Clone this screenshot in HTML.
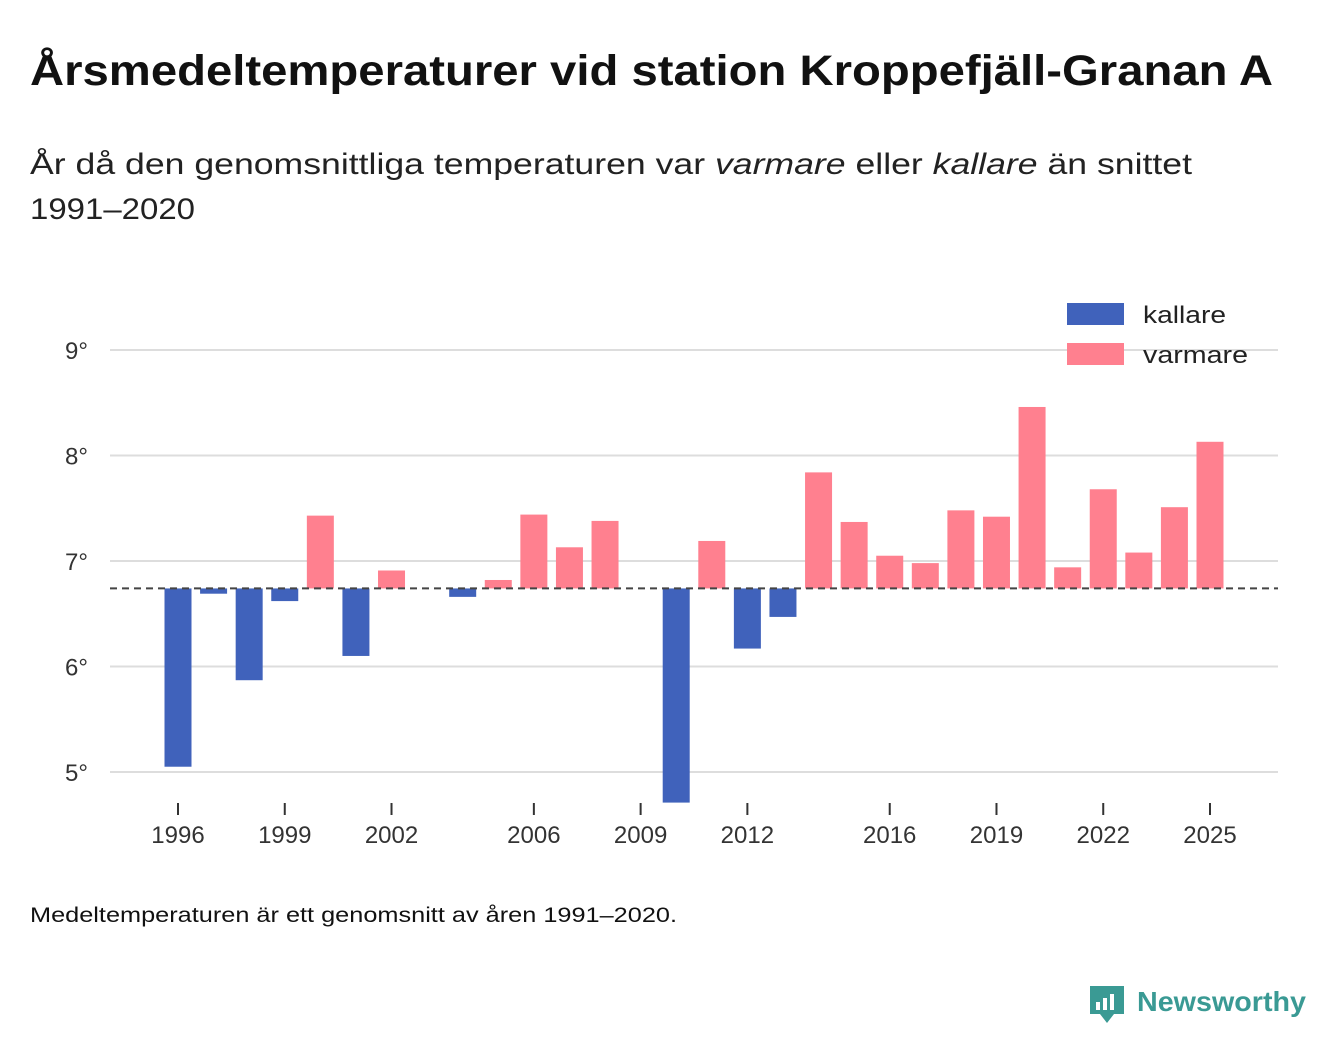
<!DOCTYPE html>
<html><head><meta charset="utf-8"><style>
html,body{margin:0;padding:0;background:#fff;}
svg{display:block;font-family:"Liberation Sans","DejaVu Sans",sans-serif;}
</style></head><body>
<svg id="chart" width="1340" height="1056" viewBox="0 0 1340 1056">
<text x="30" y="85" font-size="43" font-weight="bold" fill="#111" textLength="1243" lengthAdjust="spacingAndGlyphs">Årsmedeltemperaturer vid station Kroppefjäll-Granan A</text>
<text x="30" y="174" font-size="30" fill="#222" textLength="1162" lengthAdjust="spacingAndGlyphs">År då den genomsnittliga temperaturen var <tspan font-style="italic">varmare</tspan> eller <tspan font-style="italic">kallare</tspan> än snittet</text>
<text x="30" y="219" font-size="30" fill="#222" textLength="165" lengthAdjust="spacingAndGlyphs">1991–2020</text>
<g id="grid"></g>
<g id="bars"></g>
<g id="xaxis"></g>
<line x1="110" x2="1278" id="baseline" stroke="#444" stroke-width="2" stroke-dasharray="7,5"/>
<g>
<rect x="1067" y="303" width="57" height="22" fill="#4062bb"/>
<text x="1143" y="323" font-size="24" fill="#222" textLength="83" lengthAdjust="spacingAndGlyphs">kallare</text>
<rect x="1067" y="343" width="57" height="22" fill="#ff808f"/>
<text x="1143" y="363" font-size="24" fill="#222" textLength="105" lengthAdjust="spacingAndGlyphs">varmare</text>
</g>
<text x="30" y="922" font-size="21" fill="#111" textLength="647" lengthAdjust="spacingAndGlyphs">Medeltemperaturen är ett genomsnitt av åren 1991–2020.</text>
<g>
<path d="M1090 986 h34 v28 h-10 l-7 9 l-7 -9 h-10 z" fill="#3a9a94"/>
<rect x="1096" y="1002" width="4" height="8" fill="#fff"/><rect x="1103" y="998" width="4" height="12" fill="#fff"/><rect x="1110" y="994" width="4" height="16" fill="#fff"/>
<text x="1137" y="1011" font-size="28" font-weight="bold" fill="#3a9a94" textLength="169" lengthAdjust="spacingAndGlyphs">Newsworthy</text>
</g>
</svg>
<script>
const years=[1996,1997,1998,1999,2000,2001,2002,2003,2004,2005,2006,2007,2008,2009,2010,2011,2012,2013,2014,2015,2016,2017,2018,2019,2020,2021,2022,2023,2024,2025];
const temps=[5.05,6.69,5.87,6.62,7.43,6.10,6.91,null,6.66,6.82,7.44,7.13,7.38,null,4.71,7.19,6.17,6.47,7.84,7.37,7.05,6.98,7.48,7.42,8.46,6.94,7.68,7.08,7.51,8.13];
const average=6.74;
const yTicks=[5,6,7,8,9];
const xTickYears=[1996,1999,2002,2006,2009,2012,2016,2019,2022,2025];
const NS="http://www.w3.org/2000/svg";
const y=v=>350+(9-v)*105.5;
const x=yr=>178+(yr-1996)*(1032/29);
function mk(tag,attrs,parent){const e=document.createElementNS(NS,tag);for(const k in attrs)e.setAttribute(k,attrs[k]);parent.appendChild(e);return e;}
const grid=document.getElementById('grid'),bars=document.getElementById('bars'),xa=document.getElementById('xaxis');
yTicks.forEach(t=>{
  const l=mk('line',{x1:110,x2:1278,y1:y(t),y2:y(t),stroke:'#ddd','stroke-width':2},grid);
  
  
  const tx=mk('text',{x:88,y:y(t)+9,'font-size':24,fill:'#333','text-anchor':'end'},grid);
  tx.textContent=t+'°';
  
  
});
years.forEach((yr,i)=>{
  const v=temps[i];if(v==null)return;
  const top=Math.min(y(v),y(average)),h=Math.abs(y(v)-y(average));
  const r=mk('rect',{x:x(yr)-13.5,y:top,width:27,height:h,fill:v<average?'#4062bb':'#ff808f'},bars);
  
  
});
xTickYears.forEach(yr=>{
  const l=mk('line',{x1:x(yr),x2:x(yr),y1:803,y2:815,stroke:'#333','stroke-width':2},xa);
  
  
  const t=mk('text',{x:x(yr),y:843,'font-size':24,fill:'#333','text-anchor':'middle'},xa);
  t.textContent=yr;
  
  
});
const b=document.getElementById('baseline');b.setAttribute('y1',y(average));b.setAttribute('y2',y(average));
</script>
</body></html>
